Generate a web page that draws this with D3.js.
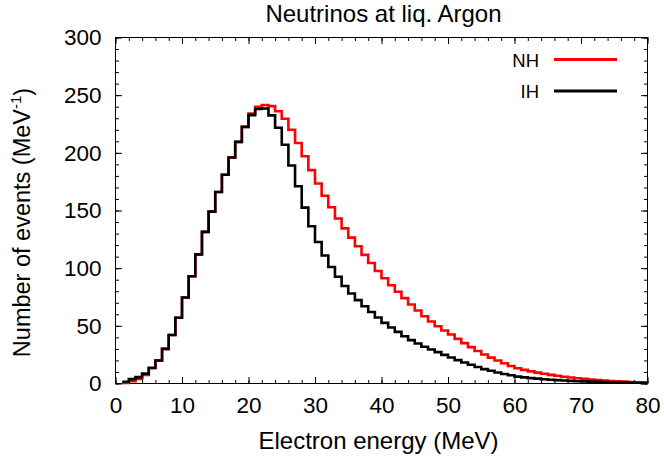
<!DOCTYPE html>
<html>
<head>
<meta charset="utf-8">
<script src="https://cdn.jsdelivr.net/npm/d3@7"></script>
<style>
  body { margin: 0; background: #fff; }
  svg { display: block; font-family: "Liberation Sans", Arial, Helvetica, sans-serif; }
</style>
</head>
<body>
<svg id="chart" width="664" height="459"></svg>
<script>
// ---- data ----
const title = "Neutrinos at liq. Argon";
const xLabel = "Electron energy (MeV)";
const yLabelMain = "Number of events (MeV";
const yLabelSup = "-1";
const seriesNames = ["NH", "IH"];
const seriesColors = ["#ff0000", "#000000"];
// lower edges of 1 MeV bins
const binStart = [1,2,3,4,5,6,7,8,9,10,11,12,13,14,15,16,17,18,19,20,21,22,23,24,25,26,27,28,29,30,
  31,32,33,34,35,36,37,38,39,40,41,42,43,44,45,46,47,48,49,50,51,52,53,54,55,56,57,58,59,60,
  61,62,63,64,65,66,67,68,69,70,71,72,73,74,75,76,77,78,79];
const nhValues = [0.5,2,4,7.5,13.2,20,30,42,57,74.6,93,112,131.5,149,166,181,196,209.5,222.5,234,
  240,241.5,240.5,236,229.5,220,208.5,197,185,173.4,162.8,152.8,143,134.5,126.5,119,111.5,104.5,97.5,91.3,
  85.2,79.5,74,68.5,63.3,58.3,53.8,49.7,46,42.5,38.7,35,31.5,28.2,25.2,22.4,19.9,17.5,15.2,13.2,
  11.8,10.5,9.4,8.4,7.5,6.7,5.9,5.2,4.6,4.0,3.5,3.0,2.6,2.2,1.9,1.6,1.3,1.0,0.8];
const ihValues = [1.5,3.8,5.5,8.6,13.6,20,30,42,57,74.6,93,112,131.5,149,166,181,196,209.5,222.5,232.7,
  238,238.5,232.5,221.7,207,189,171,152.5,136.3,122.7,111,101,92.5,84.5,78,72.3,67,62,57.2,52.6,
  48.5,44.8,41,37.6,34.7,31.8,29.5,27.2,24.8,22.5,20.3,18.2,16.2,14.3,12.5,11,9.6,8.3,7.1,6.0,
  5.3,4.7,4.2,3.7,3.3,2.9,2.6,2.3,2.0,1.8,1.6,1.4,1.2,1.0,0.9,0.8,0.7,0.6,0.5];
const xTicks = [0,10,20,30,40,50,60,70,80];
const yTicks = [0,50,100,150,200,250,300];
const xMinorTicks = [0,2,4,6,8,10,12,14,16,18,20,22,24,26,28,30,32,34,36,38,40,42,44,46,48,50,52,54,56,58,60,62,64,66,68,70,72,74,76,78,80];
const yMinorTicks = [0,10,20,30,40,50,60,70,80,90,100,110,120,130,140,150,160,170,180,190,200,210,220,230,240,250,260,270,280,290,300];
const xDomain = [0, 80];
const yDomain = [0, 300];

// ---- layout ----
const svg = d3.select("#chart");
const L = 115.5, R = 647.5, T = 37.5, B = 383.5;
const x = d3.scaleLinear().domain(xDomain).range([L, R]);
const y = d3.scaleLinear().domain(yDomain).range([B, T]);

// axes with inward ticks
function drawAxis(axisGen, transform, ticks, size, labels) {
  const g = svg.append("g").attr("transform", transform)
    .call(axisGen.tickValues(ticks).tickSizeInner(-size).tickSizeOuter(0).tickPadding(10)
      .tickFormat(labels ? d3.format("d") : ""));
  g.select(".domain").remove();
  g.selectAll(".tick line").attr("stroke", "#000").attr("stroke-width", 1);
  g.selectAll(".tick text").attr("font-size", 22.5).attr("fill", "#000");
  return g;
}
const xb = drawAxis(d3.axisBottom(x), `translate(0,${B})`, xTicks, 6.5, true);
xb.selectAll(".tick text").attr("dy", "0.71em").attr("y", 14);
drawAxis(d3.axisBottom(x), `translate(0,${B})`, xMinorTicks, 3.5, false);
drawAxis(d3.axisTop(x), `translate(0,${T})`, xTicks, 6.5, false);
drawAxis(d3.axisTop(x), `translate(0,${T})`, xMinorTicks, 3.5, false);
const yl = drawAxis(d3.axisLeft(y), `translate(${L},0)`, yTicks, 6.5, true);
yl.selectAll(".tick text").attr("x", -14);
drawAxis(d3.axisLeft(y), `translate(${L},0)`, yMinorTicks, 3.5, false);
drawAxis(d3.axisRight(y), `translate(${R},0)`, yTicks, 6.5, false);
drawAxis(d3.axisRight(y), `translate(${R},0)`, yMinorTicks, 3.5, false);

// frame
svg.append("rect").attr("x", L).attr("y", T).attr("width", R - L).attr("height", B - T)
  .attr("fill", "none").attr("stroke", "#000").attr("stroke-width", 1);

// step histograms
const line = d3.line().curve(d3.curveStepAfter).x(d => x(d[0])).y(d => y(d[1]));
function stepPoints(vals) {
  const pts = binStart.map((e, i) => [e, vals[i]]);
  pts.push([binStart[binStart.length - 1] + 1, vals[vals.length - 1]]);
  return pts;
}
const seriesVals = [nhValues, ihValues];
[0, 1].forEach(k => {
  svg.append("path").datum(stepPoints(seriesVals[k]))
    .attr("d", line).attr("fill", "none")
    .attr("stroke", seriesColors[k]).attr("stroke-width", 2.6)
    .attr("stroke-linejoin", "miter");
});

// legend
const legY = [59.5, 91];
seriesNames.forEach((name, k) => {
  svg.append("text").attr("x", 539).attr("y", legY[k] + 1).attr("dy", "0.35em")
    .attr("text-anchor", "end").attr("font-size", 18.5).text(name);
  svg.append("line").attr("x1", 554).attr("x2", 617).attr("y1", legY[k]).attr("y2", legY[k])
    .attr("stroke", seriesColors[k]).attr("stroke-width", 3);
});

// titles
svg.append("text").attr("x", (L + R) / 2 + 2).attr("y", 14).attr("dy", "0.35em")
  .attr("text-anchor", "middle").attr("font-size", 24).text(title);
svg.append("text").attr("x", (L + R) / 2 - 3).attr("y", 441).attr("dy", "0.35em")
  .attr("text-anchor", "middle").attr("font-size", 24).text(xLabel);
const yt = svg.append("text").attr("transform", `translate(22,${(T + B) / 2 + 12}) rotate(-90)`)
  .attr("dy", "0.35em").attr("text-anchor", "middle").attr("font-size", 23.5);
yt.append("tspan").text(yLabelMain);
yt.append("tspan").attr("font-size", 15).attr("dy", "-0.6em").text(yLabelSup);
yt.append("tspan").attr("dy", "0.4em").text(")");
</script>
</body>
</html>
